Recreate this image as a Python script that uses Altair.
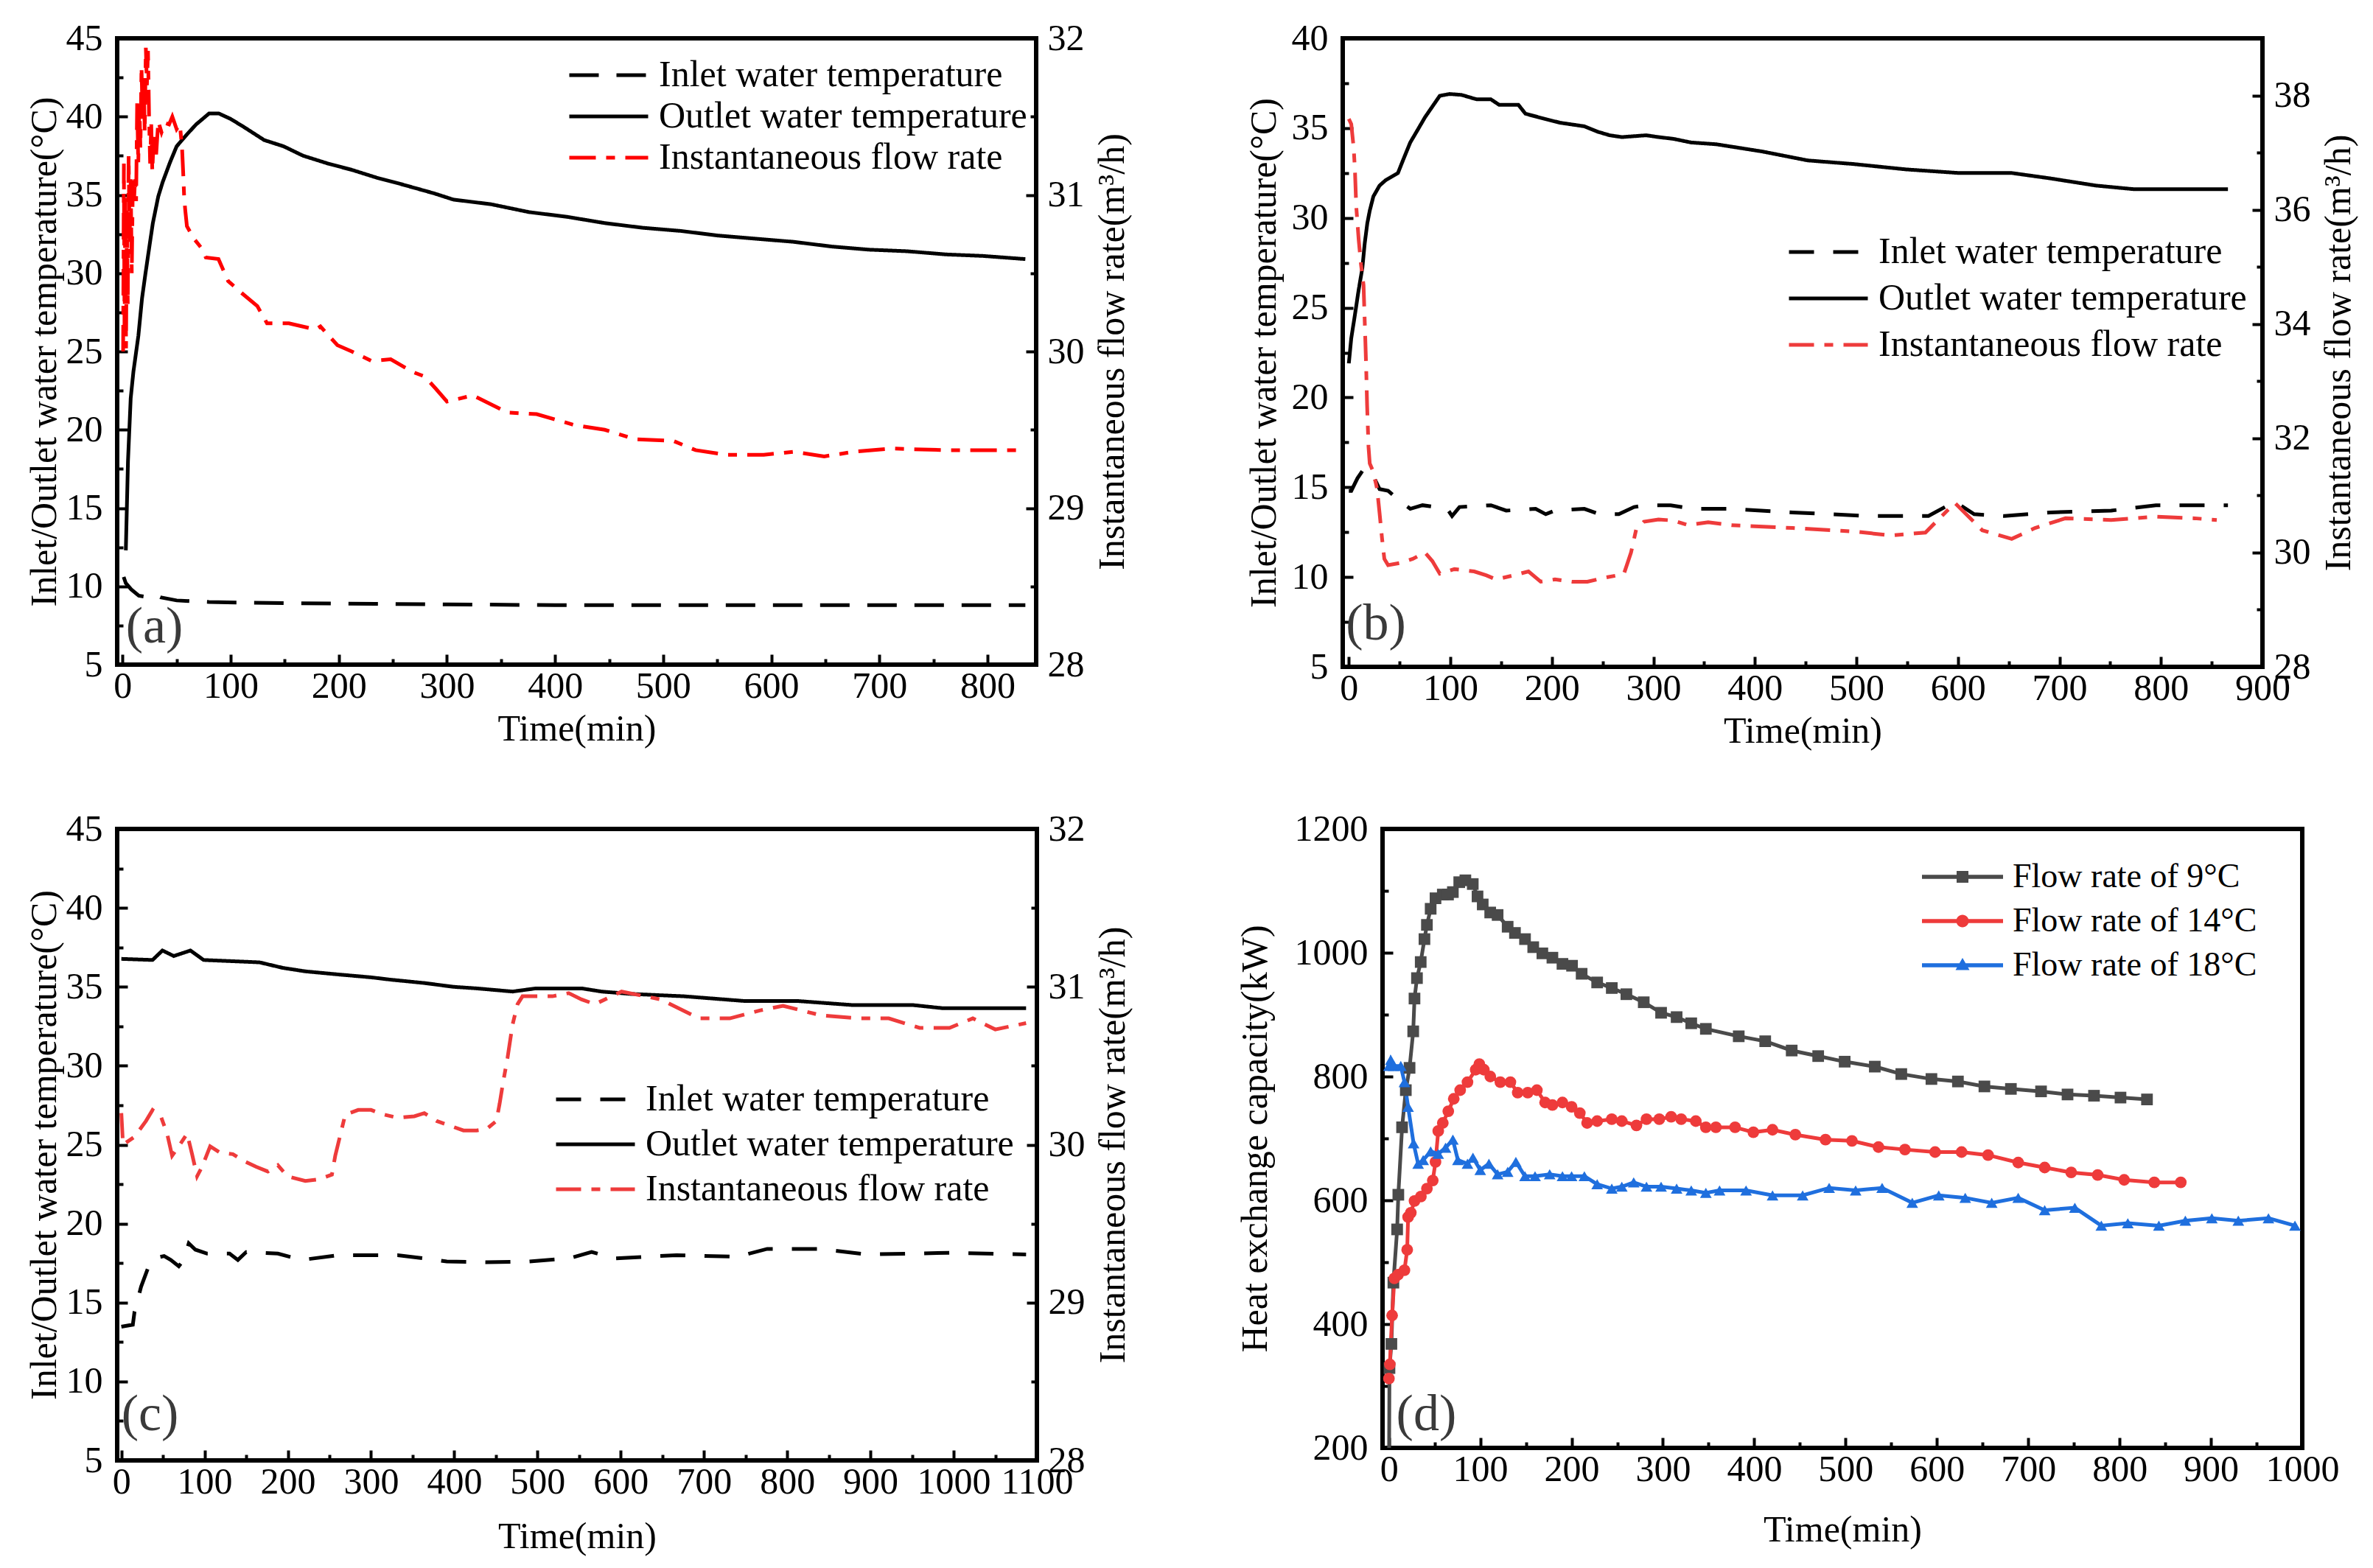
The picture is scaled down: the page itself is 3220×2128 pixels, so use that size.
import altair as alt
import pandas as pd

FONT = "Liberation Serif"
INLET = "Inlet water temperature"
OUTLET = "Outlet water temperature"
FLOW = "Instantaneous flow rate"
S9 = "Flow rate of 9°C"
S14 = "Flow rate of 14°C"
S18 = "Flow rate of 18°C"
TEMP_TITLE = "Inlet/Outlet water temperature(°C)"
FLOW_TITLE = "Instantaneous flow rate(m³/h)"
TIME_TITLE = "Time(min)"
Q_TITLE = "Heat exchange capacity(kW)"

# ---------------- panel (a) ----------------
A_out_t = [3, 5, 7.5, 10, 14.6, 18, 21, 25, 28, 33, 37, 44, 50, 60, 68, 80, 89, 100, 113, 131,
           149, 167, 190, 212, 235, 257, 288, 306, 341, 376, 411, 446, 481, 516, 551, 586, 621, 656,
           691, 726, 761, 796, 835]
A_out_v = [12.3, 18.0, 22.0, 23.7, 26.0, 28.4, 29.9, 31.8, 33.2, 34.9, 35.8, 37.1, 38.1, 38.9, 39.5,
           40.2, 40.2, 39.85, 39.3, 38.5, 38.1, 37.5, 37.0, 36.6, 36.1, 35.7, 35.1, 34.7, 34.4, 33.9,
           33.6, 33.2, 32.9, 32.7, 32.4, 32.2, 32.0, 31.7, 31.5, 31.4, 31.2, 31.1, 30.9]
A_in_t = [1, 3, 8, 15, 25, 30, 35, 50, 80, 120, 200, 300, 400, 500, 600, 700, 835]
A_in_v = [10.6, 10.2, 9.8, 9.4, 9.3, 9.45, 9.3, 9.1, 9.0, 8.95, 8.9, 8.85, 8.8, 8.8, 8.8, 8.8, 8.8]
A_fl_t = [0.5, 1.2, 1.8, 2.5, 3.2, 4, 4.8, 5.6, 6.5, 7.5, 8.5, 9.5, 10.5, 11.5, 12.5, 13.5, 14.5,
          15.5, 16.5, 17.5, 18.5, 19.5, 20.5, 21.5, 22.5, 23.5, 24.5, 25.5, 26.5, 27.5, 29, 31, 33,
          36, 39, 43, 46, 50, 53, 55, 56, 57, 58, 59.5, 66, 73, 77, 88.7, 97.6, 109, 124.6, 133.6,
          153.8, 178.5, 183, 198.7, 212, 230, 248, 268, 279.5, 290, 300, 324, 356, 383, 418, 446,
          474, 509, 530, 558, 593, 621, 649, 677, 712, 761, 828]
A_fl_v = [30.0, 31.2, 30.1, 31.0, 30.02, 30.9, 30.3, 31.25, 30.7, 31.1, 30.5, 31.1, 30.95, 31.1,
          30.96, 31.6, 31.2, 31.58, 31.3, 31.82, 31.5, 31.75, 31.4, 31.94, 31.7, 31.92, 31.5, 31.2,
          31.45, 31.15, 31.4, 31.25, 31.47, 31.4, 31.46, 31.45, 31.5, 31.42, 31.45, 31.3, 31.15,
          30.98, 30.9, 30.8, 30.72, 30.66, 30.6, 30.59, 30.45, 30.38, 30.29, 30.18, 30.18, 30.14,
          30.16, 30.04, 30.0, 29.94, 29.95, 29.87, 29.84, 29.76, 29.68, 29.72, 29.61, 29.6, 29.53,
          29.5, 29.44, 29.43, 29.37, 29.34, 29.34, 29.36, 29.33, 29.36, 29.38, 29.37, 29.37]

# ---------------- panel (b) ----------------
B_out_t = [0, 2.4, 6, 9.7, 13.3, 15.7, 18.2, 20.6, 24.2, 30.3, 36.3, 48.4, 53.3, 60.5, 67.8, 75,
           82.3, 89.6, 99.3, 111, 126, 140, 148, 167, 174, 194, 208, 232, 245, 257, 269, 293, 305,
           320, 337, 362, 407, 452, 497, 549, 601, 653, 691, 736, 773, 810, 866]
B_out_v = [21.9, 23.3, 24.6, 26.0, 27.2, 28.6, 29.7, 30.4, 31.2, 31.8, 32.1, 32.5, 33.2, 34.2, 34.9,
           35.6, 36.2, 36.8, 36.9, 36.85, 36.6, 36.6, 36.3, 36.3, 35.8, 35.5, 35.3, 35.1, 34.8, 34.6,
           34.5, 34.6, 34.5, 34.4, 34.2, 34.1, 33.7, 33.2, 33.0, 32.7, 32.5, 32.5, 32.2, 31.8, 31.6,
           31.6, 31.6]
B_in_t = [0, 2.4, 8.5, 14.5, 21.8, 30.3, 38.7, 53.3, 60.5, 72.6, 96.9, 101.7, 109, 140, 155, 184,
          194, 203, 232, 247, 266, 281, 293, 317, 339, 377, 437, 512, 571, 597, 616, 646, 691, 751,
          795, 866]
B_in_v = [14.8, 14.8, 15.5, 16.0, 15.9, 14.9, 14.8, 14.1, 13.8, 14.0, 13.8, 13.4, 13.9, 14.0, 13.7,
          13.8, 13.5, 13.7, 13.8, 13.5, 13.5, 13.9, 14.0, 14.0, 13.8, 13.8, 13.6, 13.4, 13.4, 14.2,
          13.5, 13.4, 13.6, 13.7, 14.0, 14.0]
B_fl_t = [0, 2.4, 4.8, 6, 7.3, 9.7, 12, 14.5, 15.7, 17, 18, 19.4, 20.6, 24.2, 27.8, 30.3, 32.7, 35,
          38.7, 50.8, 63, 75, 82.3, 89.6, 104, 123.5, 135.6, 145, 162, 177, 189, 203, 220, 235, 252,
          264, 271, 278, 283, 290.6, 305, 320, 334, 354, 377, 437, 497, 534, 568, 597, 624, 653, 676,
          706, 751, 795, 833, 855]
B_fl_v = [37.59, 37.5, 37.08, 36.7, 36.06, 35.48, 35.04, 34.68, 34.03, 33.3, 32.58, 31.85, 31.56,
          31.41, 31.12, 30.69, 30.25, 29.89, 29.78, 29.82, 29.89, 30.0, 29.85, 29.63, 29.71, 29.67,
          29.6, 29.53, 29.6, 29.67, 29.49, 29.53, 29.49, 29.49, 29.56, 29.6, 29.63, 30.0, 30.4, 30.54,
          30.58, 30.56, 30.48, 30.53, 30.48, 30.43, 30.37, 30.3, 30.35, 30.87, 30.39, 30.24, 30.43,
          30.6, 30.57, 30.63, 30.6, 30.57]

# ---------------- panel (c) ----------------
C_out_t = [0, 37.5, 49.4, 63, 83, 98.8, 166, 194, 221, 257, 300, 324, 364, 399, 427, 470, 498, 553,
           577, 612, 676, 749, 813, 877, 950, 986, 1087]
C_out_v = [36.77, 36.7, 37.3, 36.95, 37.3, 36.7, 36.55, 36.2, 35.98, 35.8, 35.6, 35.45, 35.24, 35.0,
           34.9, 34.7, 34.9, 34.9, 34.7, 34.55, 34.4, 34.1, 34.1, 33.85, 33.85, 33.65, 33.65]
C_in_t = [0, 13.8, 15.8, 23.7, 33.6, 39.5, 51.4, 59.3, 69, 75, 81, 89, 103, 130, 140, 150, 188, 217,
          261, 332, 364, 391, 439, 490, 538, 565, 593, 667, 740, 776, 840, 895, 995, 1087]
C_in_v = [13.47, 13.6, 14.4, 16.0, 17.4, 17.8, 17.95, 17.7, 17.3, 17.7, 18.75, 18.35, 18.1, 18.1,
          17.7, 18.2, 18.1, 17.7, 18.0, 18.0, 17.8, 17.6, 17.55, 17.6, 17.8, 18.2, 17.8, 18.0, 17.9,
          18.4, 18.4, 18.05, 18.15, 18.05]
C_fl_t = [0, 2, 15.8, 29.6, 37.5, 47.4, 55, 61, 69, 79, 85, 91, 97, 106.7, 118.6, 134, 146, 162,
          176, 188, 199.6, 221, 237, 253, 257, 263, 269, 284.6, 300, 316, 332, 352, 364, 379, 395,
          411, 427, 439, 450.6, 454.5, 458.5, 464, 470, 476, 482, 498, 518, 537.5, 553, 569, 585,
          601, 648, 694, 731, 767, 795, 840, 886, 922, 959, 995, 1023, 1050, 1087]
C_fl_v = [30.2, 30.0, 30.05, 30.15, 30.22, 30.18, 30.07, 29.93, 29.99, 30.07, 29.94, 29.8, 29.86,
          29.99, 29.95, 29.94, 29.9, 29.86, 29.83, 29.87, 29.8, 29.77, 29.78, 29.81, 29.93, 30.06,
          30.19, 30.22, 30.22, 30.19, 30.17, 30.18, 30.2, 30.15, 30.12, 30.09, 30.09, 30.1, 30.15,
          30.26, 30.39, 30.55, 30.76, 30.89, 30.94, 30.94, 30.94, 30.96, 30.92, 30.89, 30.93, 30.97,
          30.92, 30.8, 30.8, 30.85, 30.88, 30.82, 30.8, 30.8, 30.74, 30.74, 30.8, 30.73, 30.77]

# ---------------- panel (d) ----------------
D9_t = [0, 0.6, 2.7, 4.9, 9, 10.3, 14.4, 18.5, 22.6, 26.6, 28, 30.7, 34.8, 38.9, 41.6, 45.7, 51, 59,
        64.7, 70, 77, 83.7, 91.8, 97, 102.7, 110.9, 119, 130, 138, 149, 158, 168, 179, 190, 200.5,
        211, 228, 244, 260, 279, 298, 315, 331, 347, 383, 412, 441, 470, 499, 532, 561, 594, 623,
        652, 681, 714, 743, 772, 801, 830]
D9_v = [120, 329, 368, 467, 553, 609, 718, 778, 814, 873, 926, 959, 985, 1022, 1045, 1071, 1088,
        1094, 1094, 1098, 1114, 1117, 1111, 1091, 1078, 1065, 1061, 1042, 1032, 1022, 1009, 999,
        992, 982, 979, 966, 952, 943, 933, 920, 903, 896, 886, 877, 865, 857, 842, 833, 824, 816,
        804, 796, 792, 784, 780, 776, 771, 769, 766, 763]
D14_t = [0, 1, 3.5, 6, 10, 17, 20, 21, 24, 28, 35, 41.6, 48, 51, 54, 59, 65, 71, 78, 86, 95, 99, 104,
         111, 122, 133, 141, 152, 162, 171, 179, 190, 200, 209, 217, 228, 244, 255, 271, 282, 296,
         309, 320, 336, 347, 358, 379, 399, 420, 445, 478, 507, 536, 565, 598, 627, 656, 689, 718,
         747, 776, 805, 838, 867]
D14_v = [312, 335, 414, 474, 480, 487, 520, 573, 580, 599, 606, 619, 632, 662, 712, 725, 744, 764,
         778, 791, 811, 820, 811, 800, 791, 791, 774, 774, 778, 758, 754, 758, 751, 741, 725, 728,
         731, 728, 721, 731, 731, 735, 731, 728, 718, 718, 718, 710, 714, 706, 698, 696, 686, 682,
         678, 678, 673, 661, 653, 645, 641, 633, 629, 629]
D18_t = [0, 2, 5, 13, 17, 21, 27, 32, 37.5, 45.7, 54, 62, 70, 75.5, 86, 92, 100, 109.5, 119, 130,
         139, 149, 160, 176, 190, 200, 214, 228, 244, 255, 268, 282, 298, 315, 331, 347, 362, 391,
         420, 453, 482, 511, 540, 573, 602, 631, 660, 689, 718, 751, 780, 809, 843, 872, 901, 930,
         963, 992]
D18_v = [817, 827, 817, 817, 791, 751, 692, 659, 665, 679, 675, 685, 698, 665, 659, 669, 649, 659,
         642, 646, 662, 639, 639, 642, 639, 639, 639, 626, 619, 622, 629, 622, 622, 619, 616, 612,
         616, 616, 608, 608, 620, 616, 620, 596, 608, 604, 596, 604, 584, 588, 559, 563, 559, 567,
         571, 567, 571, 559]


def frame(parts):
    rows = []
    for name, ts, vs in parts:
        assert len(ts) == len(vs), name
        rows += [{"t": t, "v": v, "series": name} for t, v in zip(ts, vs)]
    return pd.DataFrame(rows)


def steps(start, stop, step):
    out, x = [], start
    while x <= stop + 1e-9:
        out.append(round(x, 3))
        x += step
    return out


def axis_x_labels(vals, pad):
    return alt.Axis(orient="bottom", values=vals, ticks=False, labelPadding=4, title=TIME_TITLE,
                    titlePadding=pad, format="d", labelOverlap=False, labelFlush=False)


def axis_y_left(vals, title, pad):
    return alt.Axis(orient="left", values=vals, ticks=False, labelPadding=20, title=title,
                    titlePadding=pad, format="d", labelOverlap=False, labelFlush=False)


def axis_y_right(vals, title):
    return alt.Axis(orient="right", values=vals, ticks=False, labelPadding=15, title=title,
                    titlePadding=13, titleAngle=270, titleBaseline="top", format="d",
                    labelOverlap=False, labelFlush=False)


def tick_axis(orient, vals, size):
    return alt.Axis(orient=orient, values=vals, labels=False, ticks=True, tickSize=size,
                    offset=-size, title=None, domain=False, grid=False)


def line_legend(lx, ly, row_pad):
    return alt.Legend(orient="none", legendX=lx, legendY=ly, title=None,
                      symbolType="M-5.35,0L5.35,0", symbolSize=400, symbolStrokeWidth=5,
                      symbolOffset=27, labelOffset=43, labelFontSize=50, labelFont=FONT,
                      labelColor="black", rowPadding=row_pad, padding=0, labelLimit=3000)


def dual_panel(temp_df, flow_df, xdom, xmaj, xmin, tdom, tmaj, tmin, fdom, fmaj, fmin,
               red, dashes, leg_pos, row_pad, label, label_pos, w, h, title_pad, x_title_pad):
    sdom = [INLET, OUTLET, FLOW]
    cs = alt.Scale(domain=sdom, range=["black", "black", red])
    ds = alt.Scale(domain=sdom, range=dashes)
    leg = line_legend(leg_pos[0], leg_pos[1], row_pad)
    xs = alt.Scale(domain=xdom, nice=False, zero=False)
    ts = alt.Scale(domain=tdom, nice=False, zero=False)
    fs = alt.Scale(domain=fdom, nice=False, zero=False)

    temp = alt.Chart(temp_df).mark_line(strokeWidth=5, clip=True).encode(
        x=alt.X("t:Q", scale=xs, axis=axis_x_labels(xmaj, x_title_pad)),
        y=alt.Y("v:Q", scale=ts, axis=axis_y_left(tmaj, TEMP_TITLE, title_pad)),
        color=alt.Color("series:N", scale=cs, legend=leg),
        strokeDash=alt.StrokeDash("series:N", scale=ds, legend=leg),
    )
    flow = alt.Chart(flow_df).mark_line(strokeWidth=5, clip=True).encode(
        x=alt.X("t:Q", scale=xs, axis=None),
        y=alt.Y("v:Q", scale=fs, axis=axis_y_right(fmaj, FLOW_TITLE)),
        color=alt.Color("series:N", scale=cs, legend=leg),
        strokeDash=alt.StrokeDash("series:N", scale=ds, legend=leg),
    )
    tk_major = alt.Chart(temp_df).mark_point(opacity=0).encode(
        x=alt.X("t:Q", scale=xs, axis=tick_axis("bottom", xmaj, 14)),
        y=alt.Y("v:Q", scale=ts, axis=tick_axis("left", tmaj, 14)),
    )
    tk_minor = alt.Chart(temp_df).mark_point(opacity=0).encode(
        x=alt.X("t:Q", scale=xs, axis=tick_axis("bottom", xmin, 8)),
        y=alt.Y("v:Q", scale=ts, axis=tick_axis("left", tmin, 8)),
    )
    tk_rmajor = alt.Chart(flow_df).mark_point(opacity=0).encode(
        x=alt.X("t:Q", scale=xs, axis=None),
        y=alt.Y("v:Q", scale=fs, axis=tick_axis("right", fmaj, 14)),
    )
    tk_rminor = alt.Chart(flow_df).mark_point(opacity=0).encode(
        x=alt.X("t:Q", scale=xs, axis=None),
        y=alt.Y("v:Q", scale=fs, axis=tick_axis("right", fmin, 8)),
    )
    txt = alt.Chart(pd.DataFrame({"t": [label_pos[0]], "v": [label_pos[1]]})).mark_text(
        text=label, align="left", baseline="alphabetic", fontSize=70, font=FONT, color="#3a3a3a"
    ).encode(
        x=alt.X("t:Q", scale=xs, axis=None),
        y=alt.Y("v:Q", scale=ts, axis=None),
    )
    return alt.layer(temp, flow, tk_major, tk_minor, tk_rmajor, tk_rminor, txt).resolve_scale(
        x="independent", y="independent").properties(width=w, height=h)


# ---- panel (a)
a_temp = frame([(INLET, A_in_t, A_in_v), (OUTLET, A_out_t, A_out_v)])
a_flow = frame([(FLOW, A_fl_t, A_fl_v)])
pa = dual_panel(a_temp, a_flow, [-5, 845], steps(0, 800, 100), steps(50, 800, 100),
                [5, 45], steps(5, 45, 5), steps(7.5, 42.5, 5),
                [28, 32], steps(28, 32, 1), steps(28.5, 31.5, 1),
                "#ff0000", [[40, 24], [1, 0], [36, 14, 12, 14]], (615, 25), 6,
                "(a)", (3, 6.4), 1247, 850, 4, 8)

# ---- panel (b)
b_temp = frame([(INLET, B_in_t, B_in_v), (OUTLET, B_out_t, B_out_v)])
b_flow = frame([(FLOW, B_fl_t, B_fl_v)])
pb = dual_panel(b_temp, b_flow, [-6, 900], steps(0, 900, 100), steps(50, 850, 100),
                [5, 40], steps(5, 40, 5), steps(7.5, 37.5, 5),
                [28, 39], steps(28, 38, 2), steps(29, 37, 2),
                "#ee3b3b", [[34, 26], [1, 0], [34, 14, 12, 14]], (607, 265), 13,
                "(b)", (-3, 6.5), 1248, 853, 12, 8)

# ---- panel (c)
c_temp = frame([(INLET, C_in_t, C_in_v), (OUTLET, C_out_t, C_out_v)])
c_flow = frame([(FLOW, C_fl_t, C_fl_v)])
pc = dual_panel(c_temp, c_flow, [-5, 1100], steps(0, 1100, 100), steps(50, 1050, 100),
                [5, 45], steps(5, 45, 5), steps(7.5, 42.5, 5),
                [28, 32], steps(28, 32, 1), steps(28.5, 31.5, 1),
                "#ee3b3b", [[34, 26], [1, 0], [34, 14, 12, 14]], (597, 342), 11,
                "(c)", (0, 6.9), 1248, 857, 4, 24)

# ---- panel (d)
d_df = frame([(S9, D9_t, D9_v), (S14, D14_t, D14_v), (S18, D18_t, D18_v)])
D_DOM = [S9, S14, S18]
D_COL = ["#4a4a4a", "#ee3b3b", "#1f6fde"]
LINE_P = "M-5.5,-0.28L5.5,-0.28L5.5,0.28L-5.5,0.28Z"
SQ_P = "M-0.8,-0.8L0.8,-0.8L0.8,0.8L-0.8,0.8Z"
CI_P = "M-0.85,0A0.85,0.85 0 1,1 0.85,0A0.85,0.85 0 1,1 -0.85,0Z"
TR_P = "M0,-1L0.95,0.65L-0.95,0.65Z"
legd = alt.Legend(orient="none", legendX=733, legendY=42, title=None, symbolSize=400,
                  symbolStrokeWidth=0, symbolOffset=31, labelOffset=45, labelFontSize=46,
                  labelFont=FONT, labelColor="black", rowPadding=14, padding=0, labelLimit=3000,
                  symbolOpacity=1)
dcs = alt.Scale(domain=D_DOM, range=D_COL)
dss = alt.Scale(domain=D_DOM, range=["square", "circle", "triangle-up"])
dss_leg = alt.Scale(domain=D_DOM, range=[LINE_P + SQ_P, LINE_P + CI_P, LINE_P + TR_P])
dxs = alt.Scale(domain=[-7, 1000], nice=False, zero=False)
dys = alt.Scale(domain=[200, 1200], nice=False, zero=False)
xd_maj = steps(0, 1000, 100)
xd_min = steps(50, 950, 100)
qd_maj = steps(200, 1200, 200)
qd_min = steps(300, 1100, 200)

d_line = alt.Chart(d_df).mark_line(strokeWidth=5, clip=True).encode(
    x=alt.X("t:Q", scale=dxs, axis=axis_x_labels(xd_maj, 32)),
    y=alt.Y("v:Q", scale=dys, axis=axis_y_left(qd_maj, Q_TITLE, 28)),
    color=alt.Color("series:N", scale=dcs, legend=None),
)
d_pts = alt.Chart(d_df).mark_point(filled=True, size=250, opacity=1, clip=True).encode(
    x=alt.X("t:Q", scale=dxs, axis=None),
    y=alt.Y("v:Q", scale=dys, axis=None),
    color=alt.Color("series:N", scale=dcs, legend=None),
    shape=alt.Shape("series:N", scale=dss, legend=None),
)
d_leg = alt.Chart(d_df).transform_filter("false").mark_point(filled=True, opacity=1).encode(
    x=alt.X("t:Q", scale=dxs, axis=None),
    y=alt.Y("v:Q", scale=dys, axis=None),
    color=alt.Color("series:N", scale=dcs, legend=legd),
    shape=alt.Shape("series:N", scale=dss_leg, legend=legd),
)
d_tk1 = alt.Chart(d_df).mark_point(opacity=0).encode(
    x=alt.X("t:Q", scale=dxs, axis=tick_axis("bottom", xd_maj, 14)),
    y=alt.Y("v:Q", scale=dys, axis=tick_axis("left", qd_maj, 14)),
)
d_tk2 = alt.Chart(d_df).mark_point(opacity=0).encode(
    x=alt.X("t:Q", scale=dxs, axis=tick_axis("bottom", xd_min, 8)),
    y=alt.Y("v:Q", scale=dys, axis=tick_axis("left", qd_min, 8)),
)
d_txt = alt.Chart(pd.DataFrame({"t": [8], "v": [229]})).mark_text(
    text="(d)", align="left", baseline="alphabetic", fontSize=70, font=FONT, color="#3a3a3a"
).encode(
    x=alt.X("t:Q", scale=dxs, axis=None),
    y=alt.Y("v:Q", scale=dys, axis=None),
)
pdd = alt.layer(d_line, d_pts, d_leg, d_tk1, d_tk2, d_txt).resolve_scale(
    x="independent", y="independent", color="independent", shape="independent"
).properties(width=1248, height=840)

top = alt.hconcat(pa, pb, spacing=416, bounds="flush").resolve_scale(
    color="independent", strokeDash="independent"
).resolve_legend(color="independent", strokeDash="independent")
bottom = alt.hconcat(pc, pdd, spacing=469, bounds="flush").resolve_scale(
    color="independent", strokeDash="independent", shape="independent"
).resolve_legend(color="independent", strokeDash="independent", shape="independent")
chart = alt.vconcat(top, bottom, spacing=77).resolve_scale(
    color="independent", strokeDash="independent", shape="independent"
).resolve_legend(
    color="independent", strokeDash="independent", shape="independent"
).properties(
    padding={"left": 24, "top": 16, "right": 5, "bottom": 5}
).configure_view(
    stroke="black", strokeWidth=6
).configure_axis(
    labelFont=FONT, titleFont=FONT, labelFontSize=50, titleFontSize=50,
    titleFontWeight="normal", labelColor="black", titleColor="black", grid=False,
    domain=False, tickColor="black", tickWidth=4, titleLimit=3000
).configure_legend(
    labelFont=FONT, labelFontSize=50
)

chart.save("out.html", embed_options={"renderer": "svg", "actions": False})
